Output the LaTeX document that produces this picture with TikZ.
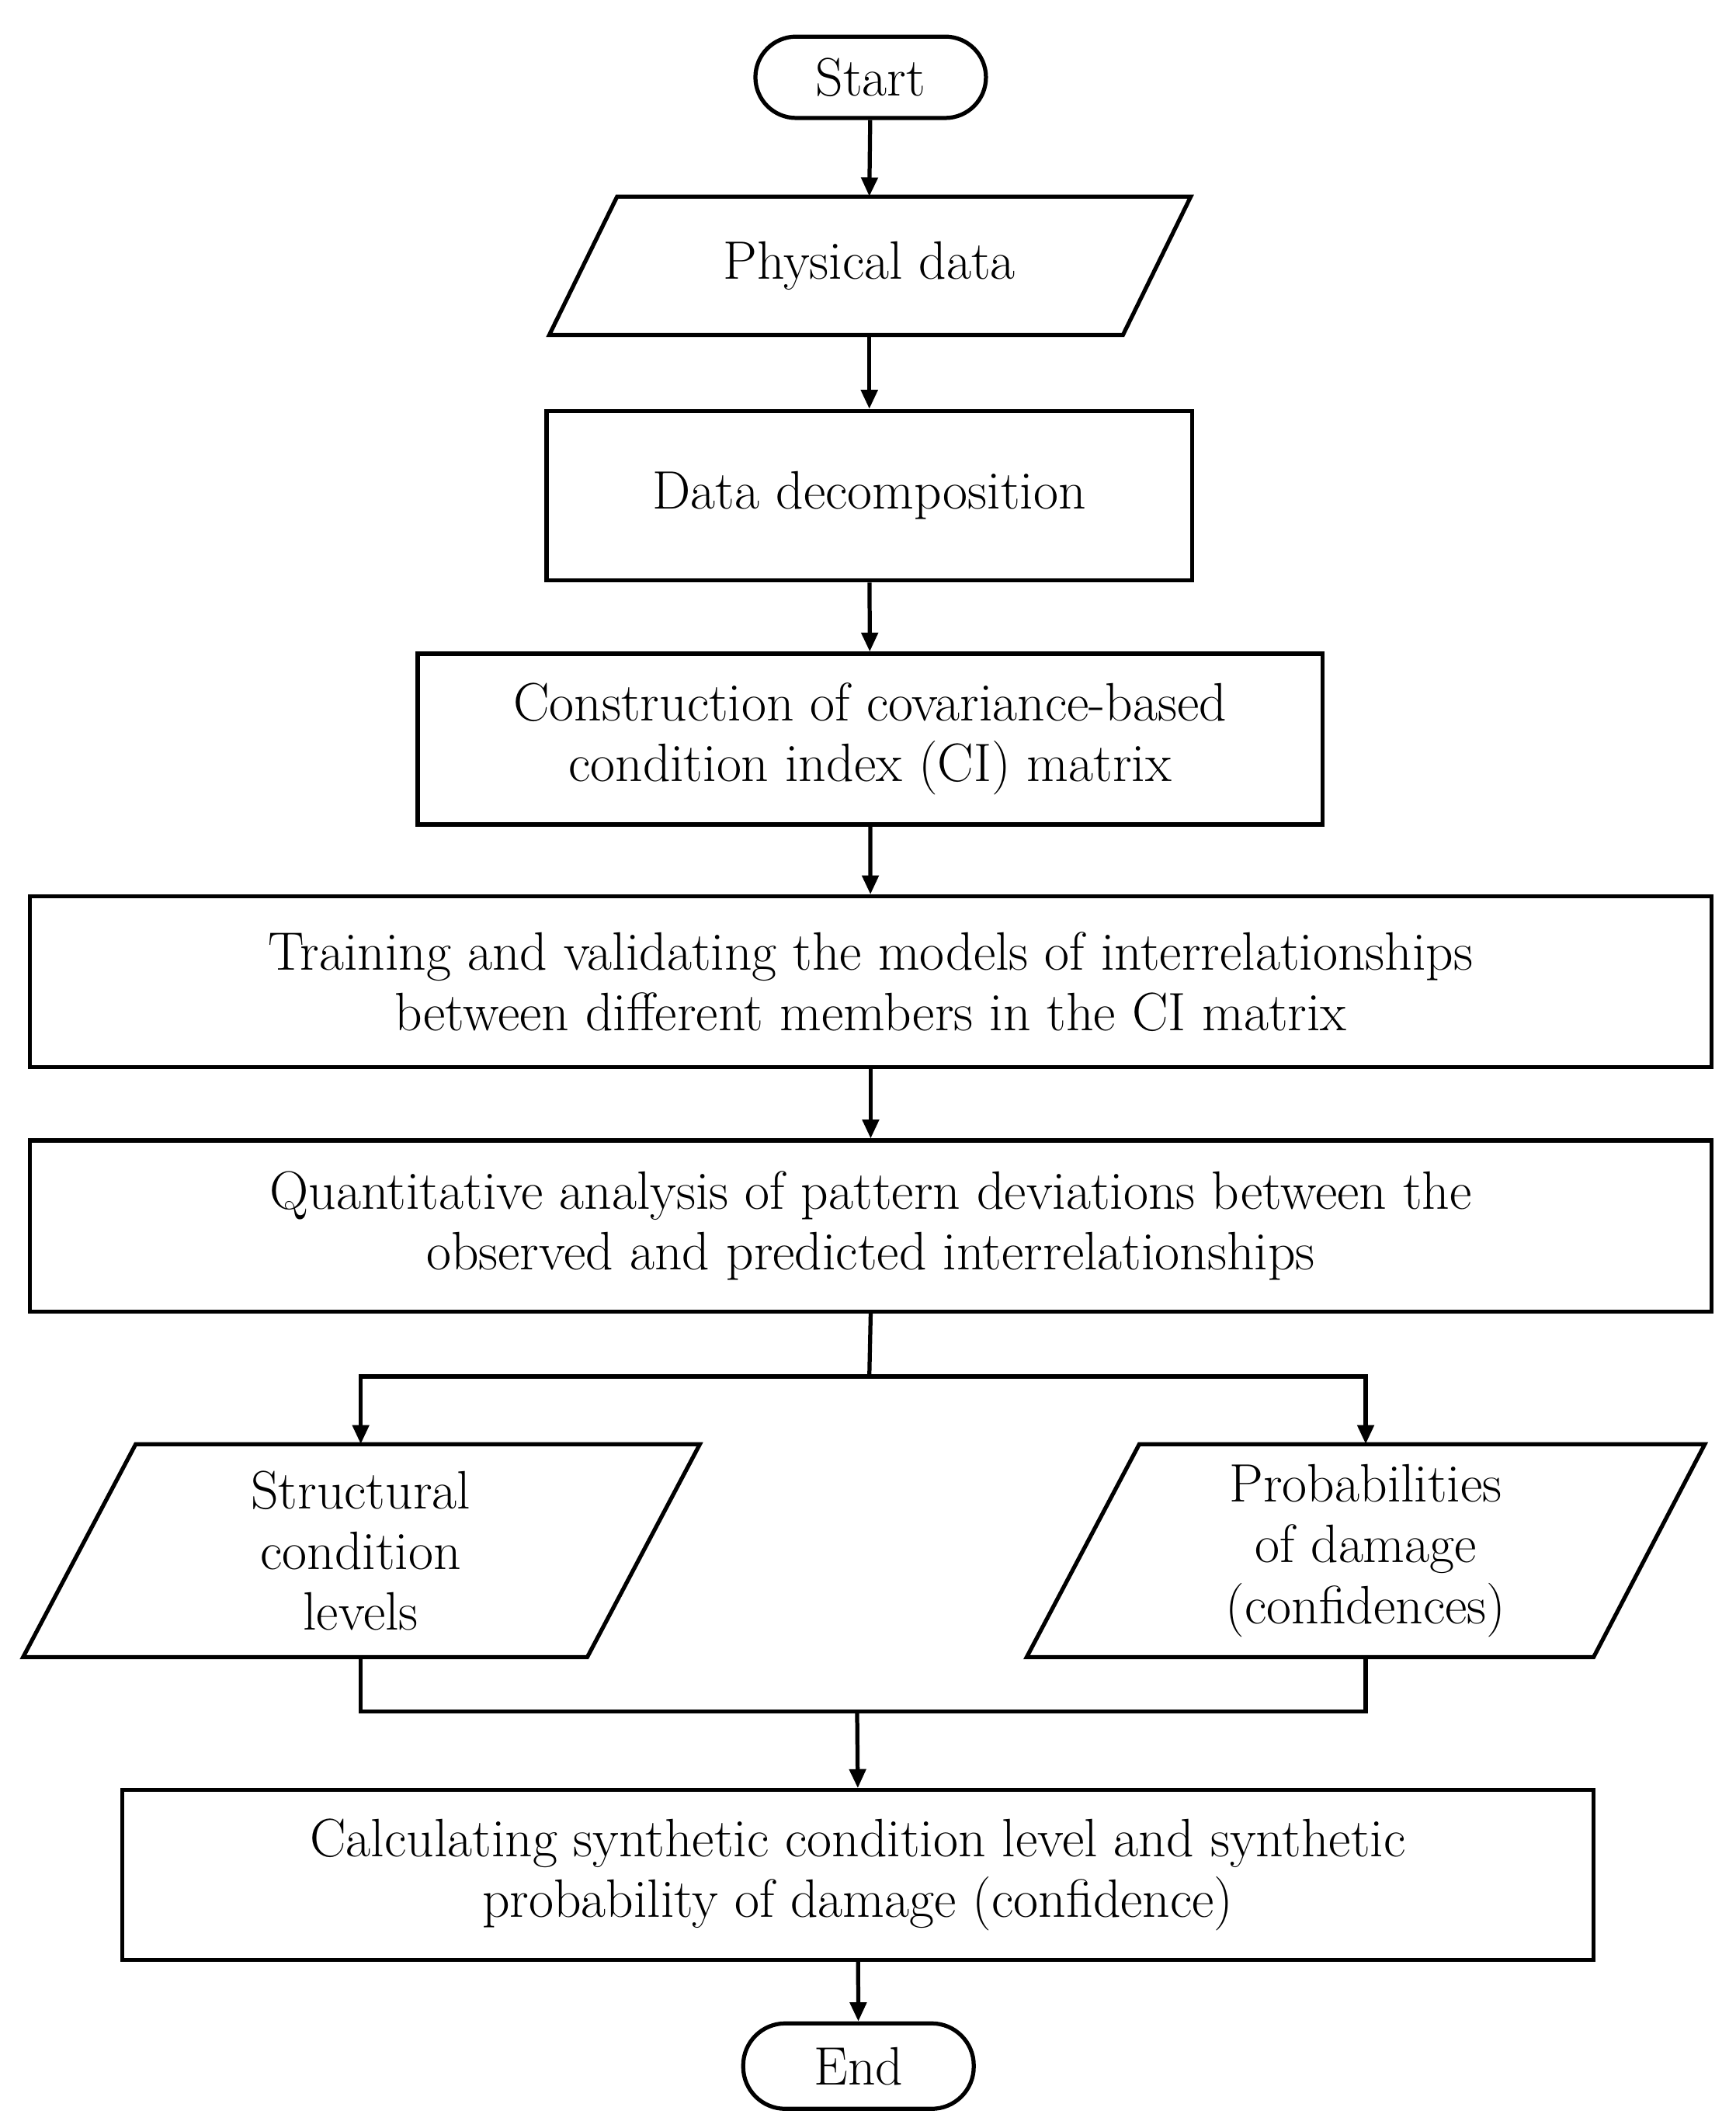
\documentclass[tikz,border=0pt]{standalone}
\usetikzlibrary{arrows.meta}
\begin{document}
\begin{tikzpicture}[x=1bp,y=-1bp,
  txt/.style={align=center,font=\fontsize{40}{45}\selectfont,inner sep=0pt},
  box/.style={draw,line width=3bp,txt},
  ln/.style={line width=3bp},
  ar/.style={ln,-{Triangle[length=14bp,width=12bp]}}]
\useasboundingbox (0,0) rectangle (1280,1564);
\node[box,rounded corners=30bp,minimum width=170bp,minimum height=60bp] (start) at (642,57) {Start};
\node[txt,minimum width=423bp,minimum height=102bp] (phys) at (641,196) {Physical data};
\draw[ln] (405,247)--(455,145)--(878,145)--(828,247)--cycle;
\node[box,minimum width=476bp,minimum height=125bp] (dec) at (641,365.5) {Data decomposition};
\node[box,minimum width=667bp,minimum height=126bp] (con) at (641.5,545) {Construction of covariance-based\\condition index (CI) matrix};
\node[box,minimum width=1240bp,minimum height=126bp] (tra) at (642,724) {Training and validating the models of interrelationships\\between different members in the CI matrix};
\node[box,minimum width=1240bp,minimum height=126bp] (qua) at (642,904) {Quantitative analysis of pattern deviations between the\\observed and predicted interrelationships};
\node[txt,minimum width=350bp,minimum height=157bp] (str) at (266,1143.5) {Structural\\condition\\levels};
\draw[ln] (17,1222)--(100,1065)--(516,1065)--(433,1222)--cycle;
\node[txt,minimum width=350bp,minimum height=157bp] (pro) at (1007,1143.5) {Probabilities\\of damage\\(confidences)};
\draw[ln] (757,1222)--(840,1065)--(1257,1065)--(1175,1222)--cycle;
\node[box,minimum width=1085bp,minimum height=125bp] (cal) at (632.5,1382.5) {Calculating synthetic condition level and synthetic\\probability of damage (confidence)};
\node[box,rounded corners=31bp,minimum width=170bp,minimum height=63bp] (end) at (633,1523.5) {End};
\coordinate (s1) at (641,1015);
\coordinate (m1) at (632,1262);
\draw[ar] (start) -- (phys.north);
\draw[ar] (phys.south) -- (dec);
\draw[ar] (dec) -- (con);
\draw[ar] (con) -- (tra);
\draw[ar] (tra) -- (qua);
\draw[ln] (qua.south) -- (s1);
\draw[ar] (s1) -| (str.north);
\draw[ar] (s1) -| (pro.north);
\draw[ln] (str.south) |- (m1);
\draw[ln] (pro.south) |- (m1);
\draw[ar] (m1) -- (cal.north);
\draw[ar] (cal) -- (end);
\end{tikzpicture}
\end{document}
